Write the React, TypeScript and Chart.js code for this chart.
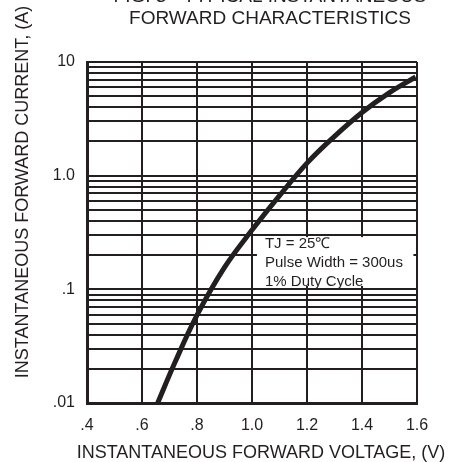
import { useEffect, useRef } from 'react';
import { Chart, registerables } from 'chart.js';

Chart.register(...registerables);

const FONT = '"Liberation Sans", Arial, Helvetica, sans-serif';
const INK = '#231f20';

// Title and axis texts
const titleLines = ['FIG. 3 - TYPICAL INSTANTANEOUS', 'FORWARD CHARACTERISTICS'];
const xTitle = 'INSTANTANEOUS FORWARD VOLTAGE, (V)';
const yTitle = 'INSTANTANEOUS FORWARD CURRENT, (A)';
const noteLines = ['TJ = 25\u2103', 'Pulse Width = 300us', '1% Duty Cycle'];

// X axis ticks
const xTicks = [0.4, 0.6, 0.8, 1.0, 1.2, 1.4, 1.6];
const xTickLabels = ['.4', '.6', '.8', '1.0', '1.2', '1.4', '1.6'];

// Y axis (log) ticks
const yDecades = [0.01, 0.1, 1, 10];
const yDecadeLabels = ['.01', '.1', '1.0', '10'];
const yMultipliers = [1, 2, 3, 4, 5, 6, 7, 8, 9];

// Curve
const voltage = [0.657, 0.72, 0.8, 0.9, 1.0, 1.1, 1.2, 1.3, 1.4, 1.5, 1.595];
const current = [0.01, 0.0228, 0.0593, 0.156, 0.332, 0.667, 1.29, 2.22, 3.6, 5.38, 7.38];

// Note box extent in data units
const boxVoltage = [1.018, 1.587];
const boxCurrent = [0.288, 0.107];

const yTickValues: number[] = [];
for (let d = 0; d < yDecades.length - 1; d++) {
  for (const m of yMultipliers) yTickValues.push(+(m * yDecades[d]).toPrecision(3));
}
yTickValues.push(yDecades[yDecades.length - 1]);

export default function App() {
  const ref = useRef<HTMLCanvasElement>(null);

  useEffect(() => {
    if (!ref.current) return;
    const textPlugin = {
      id: 'texts',
      beforeDatasetsDraw(chart: any) {
        const { ctx, scales } = chart;
        const x = scales.x;
        const y = scales.y;
        const l = x.getPixelForValue(boxVoltage[0]);
        const r = x.getPixelForValue(boxVoltage[1]);
        const t = y.getPixelForValue(boxCurrent[0]);
        const b = y.getPixelForValue(boxCurrent[1]);
        ctx.save();
        ctx.fillStyle = '#ffffff';
        ctx.fillRect(l, t, r - l, b - t);
        ctx.fillStyle = INK;
        ctx.font = `15px ${FONT}`;
        ctx.textBaseline = 'middle';
        ctx.textAlign = 'left';
        noteLines.forEach((s, i) => ctx.fillText(s, l + 8, t + 7 + i * 19));
        ctx.restore();
      },
      afterDraw(chart: any) {
        const { ctx } = chart;
        ctx.save();
        ctx.fillStyle = INK;
        ctx.textAlign = 'center';
        ctx.textBaseline = 'alphabetic';
        ctx.font = `19px ${FONT}`;
        ctx.fillText(titleLines[0], 270, 1.5);
        ctx.fillText(titleLines[1], 270, 24);
        ctx.font = `18px ${FONT}`;
        ctx.fillText(xTitle, 261, 458);
        ctx.translate(28, 192);
        ctx.rotate(-Math.PI / 2);
        ctx.fillText(yTitle, 0, 0);
        ctx.restore();
      },
    };

    const chart = new Chart(ref.current, {
      type: 'line',
      data: {
        datasets: [
          {
            data: voltage.map((v, i) => ({ x: v, y: current[i] })),
            borderColor: INK,
            borderWidth: 5,
            pointRadius: 0,
            tension: 0.4,
            fill: false,
          },
        ],
      },
      options: {
        animation: false,
        responsive: true,
        maintainAspectRatio: false,
        layout: { padding: { top: 62, right: 45, left: 0, bottom: 0 } },
        plugins: { legend: { display: false }, tooltip: { enabled: false }, title: { display: false } },
        scales: {
          x: {
            type: 'linear',
            min: 0.4,
            max: 1.6,
            afterBuildTicks: (scale: any) => {
              scale.ticks = xTicks.map((v) => ({ value: v }));
            },
            afterFit: (scale: any) => {
              scale.height = 59;
            },
            grid: { color: INK, lineWidth: 2, drawTicks: false },
            border: { color: INK, width: 3 },
            ticks: {
              autoSkip: false,
              maxRotation: 0,
              padding: 13,
              color: INK,
              font: { family: FONT, size: 16 },
              callback: (value: any) => {
                const i = xTicks.findIndex((t) => Math.abs(t - Number(value)) < 1e-6);
                return i >= 0 ? xTickLabels[i] : '';
              },
            },
          },
          y: {
            type: 'logarithmic',
            min: 0.01,
            max: 10,
            afterBuildTicks: (scale: any) => {
              scale.ticks = yTickValues.map((v) => ({ value: v }));
            },
            afterFit: (scale: any) => {
              scale.width = 87;
            },
            grid: { color: INK, lineWidth: 2, drawTicks: false },
            border: { color: INK, width: 3 },
            ticks: {
              autoSkip: false,
              padding: 12,
              color: INK,
              font: { family: FONT, size: 16 },
              callback: (value: any) => {
                const i = yDecades.findIndex((t) => Math.abs(t - Number(value)) < t * 1e-6);
                return i >= 0 ? yDecadeLabels[i] : '';
              },
            },
          },
        },
      },
      plugins: [textPlugin],
    } as any);

    return () => chart.destroy();
  }, []);

  return (
    <div style={{ position: 'absolute', left: 0, top: 0, width: 462, height: 462, background: '#fff' }}>
      <canvas ref={ref} />
    </div>
  );
}
